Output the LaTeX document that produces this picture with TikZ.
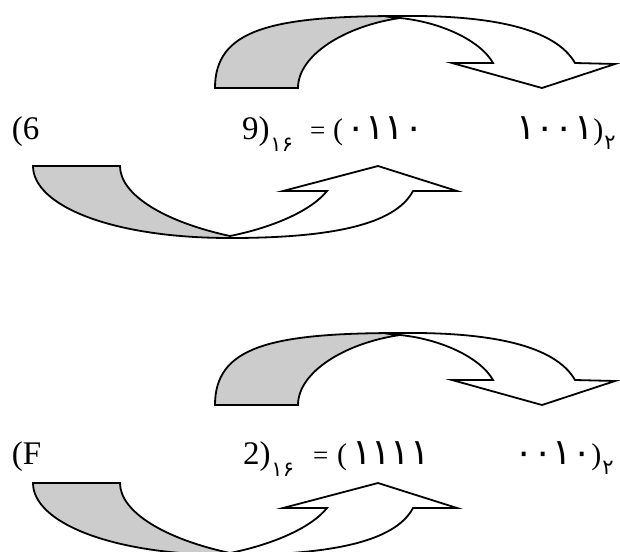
\documentclass[tikz,border=0pt]{standalone}
\usepackage{fontspec}
\setmainfont{Liberation Serif}
\newfontfamily\arfont{DejaVu Sans}
\definecolor{ribbon}{gray}{0.8}
\tikzset{
  band/.style={draw=black, line width=1.8pt, line join=miter, fill=ribbon},
  blade/.style={draw=black, line width=1.8pt, line join=miter, fill=white},
  txt/.style={inner sep=0pt, outer sep=0pt, anchor=base west},
  lat/.style={txt, font=\fontsize{33}{38}\selectfont},
  eqs/.style={txt, font=\fontsize{27}{30}\selectfont},
  par/.style={txt, font=\fontsize{30}{36}\selectfont},
  dig/.style={txt, font=\arfont\fontsize{36}{42}\selectfont},
  sub/.style={txt, font=\arfont\fontsize{21}{25}\selectfont}
}
\begin{document}
\begin{tikzpicture}[x=1pt, y=-1pt]
\useasboundingbox (0,0) rectangle (620,551);
\clip (0,0) rectangle (620,551);
\foreach \dy in {0,317} {
  \begin{scope}[yshift=-\dy pt]
    % upper curved arrow (pointing down to the right)
    \path[band] (215,88) -- (298,88)
      .. controls (298,55) and (345,26) .. (400,18)
      .. controls (380,16) .. (400,16)
      .. controls (270,16) and (215,30) .. (215,88) -- cycle;
    \path[blade] (400,18) .. controls (440,22) and (480,40) .. (493,63)
      -- (452,63) -- (542,88) -- (615,64) -- (575,63)
      .. controls (555,28) and (490,15) .. (400,16) -- cycle;
    % lower curved arrow (pointing up to the right)
    \path[band] (33,166) -- (120,166)
      .. controls (120,195) and (165,222) .. (230,236)
      -- (230,238)
      .. controls (110,238) and (33,205) .. (33,166) -- cycle;
    \path[blade] (230,236) .. controls (270,228) and (310,212) .. (327,191)
      -- (283,191) -- (378,166) -- (457,191) -- (413,191)
      .. controls (395,225) and (330,238) .. (230,238) -- cycle;
  \end{scope}
}
% first line: (69)16 = (0110 1001)2
\node[lat] (a1) at (12,139) {(6};
\node[lat] (a2) at (242,139) {9)};
\node[sub] (a3) at ([xshift=1pt,yshift=-12pt]a2.base east) {۱۶};
\node[eqs] (a4) at (310,139) {=};
\node[par] (a5) at (333,139) {(};
\node[dig] (a6) at (346,139) {۰۱۱۰};
\node[dig] (a7) at (516,139) {۱۰۰۱};
\node[par] (a8) at (a7.base east) {)};
\node[sub] (a9) at ([xshift=1pt,yshift=-10pt]a8.base east) {۲};
% second line: (F2)16 = (1111 0010)2
\node[lat] (b1) at (12,464) {(F};
\node[lat] (b2) at (243,464) {2)};
\node[sub] (b3) at ([xshift=1pt,yshift=-12pt]b2.base east) {۱۶};
\node[eqs] (b4) at (313,464) {=};
\node[par] (b5) at (337,464) {(};
\node[dig] (b6) at (352,464) {۱۱۱۱};
\node[dig] (b7) at (514,464) {۰۰۱۰};
\node[par] (b8) at (b7.base east) {)};
\node[sub] (b9) at ([xshift=1pt,yshift=-10pt]b8.base east) {۲};
\end{tikzpicture}
\end{document}
